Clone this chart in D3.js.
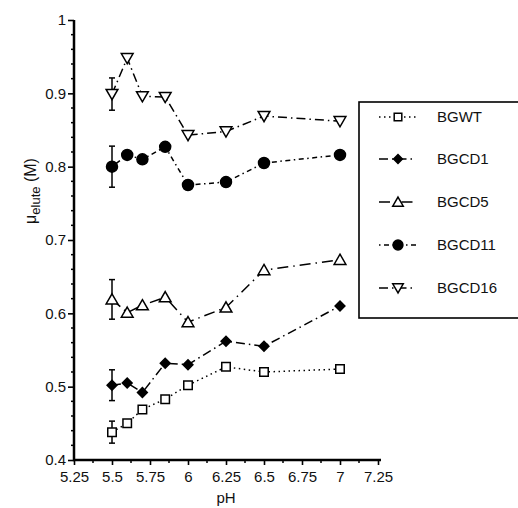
<!DOCTYPE html>
<html>
<head>
<meta charset="utf-8">
<script src="https://cdn.jsdelivr.net/npm/d3@7"></script>
<style>
  body { margin: 0; background: #fff; }
  text { font-family: "Liberation Sans", Arial, sans-serif; fill: #111; }
</style>
</head>
<body>
<svg id="chart" width="518" height="508"></svg>
<script>
// pH values, shared by every series
var phValues = [5.5, 5.6, 5.7, 5.85, 6.0, 6.25, 6.5, 7.0];

var bgwt   = [0.438, 0.450, 0.469, 0.483, 0.502, 0.527, 0.520, 0.524];
var bgcd1  = [0.502, 0.505, 0.492, 0.532, 0.530, 0.562, 0.555, 0.610];
var bgcd5  = [0.619, 0.601, 0.611, 0.622, 0.588, 0.608, 0.659, 0.673];
var bgcd11 = [0.800, 0.816, 0.810, 0.827, 0.775, 0.779, 0.805, 0.816];
var bgcd16 = [0.899, 0.948, 0.896, 0.895, 0.843, 0.848, 0.869, 0.862];

// error bars only on the first point (pH 5.5)
var errors = [0.015, 0.021, 0.027, 0.028, 0.022];

var seriesNames = ["BGWT", "BGCD1", "BGCD5", "BGCD11", "BGCD16"];
var xTicks = [5.25, 5.5, 5.75, 6, 6.25, 6.5, 6.75, 7, 7.25];
var yTicks = [0.4, 0.5, 0.6, 0.7, 0.8, 0.9, 1];

var svg = d3.select("#chart");

var x = d3.scaleLinear().domain([5.25, 7.25]).range([74, 378]);
var y = d3.scaleLinear().domain([0.4, 1]).range([460, 20]);

var seriesValues = [bgwt, bgcd1, bgcd5, bgcd11, bgcd16];
var styles = [
  {dash: "1.5,3.5", marker: "square", fill: "#fff"},
  {dash: "9,4,1.5,4", marker: "diamond", fill: "#000"},
  {dash: "11,5,1.5,5", marker: "triangleUp", fill: "#fff"},
  {dash: "1.5,3.5,5,3.5", marker: "circle", fill: "#000"},
  {dash: "9,4,1.5,4", marker: "triangleDown", fill: "#fff"}
];

var symbolTypes = {
  square: d3.symbolSquare,
  diamond: d3.symbolSquare,
  triangleUp: d3.symbolTriangle,
  circle: d3.symbolCircle,
  triangleDown: d3.symbolTriangle
};
var symbolSizes = {square: 72, diamond: 48, triangleUp: 60, circle: 95, triangleDown: 60};

function drawMarker(g, style, cx, cy, scale) {
  scale = scale || 1;
  var sym = d3.symbol().type(symbolTypes[style.marker]).size(symbolSizes[style.marker] * scale);
  var rot = style.marker == "triangleDown" ? 180 : (style.marker == "diamond" ? 45 : 0);
  var dy = style.marker == "triangleUp" ? 1.2 : (style.marker == "triangleDown" ? -1.2 : 0);
  g.append("path")
    .attr("d", sym())
    .attr("transform", "translate(" + cx + "," + (cy + dy) + ") rotate(" + rot + ")")
    .attr("fill", style.fill)
    .attr("stroke", "#000")
    .attr("stroke-width", 1.5);
}

// axis lines first, ticks and labels on top
svg.append("path").attr("d", "M74,20V460H381")
  .attr("fill", "none").attr("stroke", "#000").attr("stroke-width", 2.5);

var xAxis = d3.axisBottom(x).tickValues(xTicks).tickSize(5).tickFormat(d3.format("~g"));
var gx = svg.append("g").attr("transform", "translate(0,460)").call(xAxis);
var xMinor = d3.range(5.375, 7.25, 0.25);
gx.selectAll(".minor").data(xMinor).enter().append("line")
  .attr("x1", function(d){ return x(d); }).attr("x2", function(d){ return x(d); })
  .attr("y1", 0).attr("y2", 3).attr("stroke", "#000").attr("stroke-width", 1.5);

var yAxis = d3.axisLeft(y).tickValues(yTicks).tickSize(6).tickFormat(d3.format("~g"));
var gy = svg.append("g").attr("transform", "translate(74,0)").call(yAxis);
var yMinor = d3.range(0.42, 1, 0.02).filter(function(d){ return Math.abs(d*10 - Math.round(d*10)) > 0.01; });
gy.selectAll(".minor").data(yMinor).enter().append("line")
  .attr("x1", -3).attr("x2", 0)
  .attr("y1", function(d){ return y(d); }).attr("y2", function(d){ return y(d); })
  .attr("stroke", "#000").attr("stroke-width", 1.5);

[gx, gy].forEach(function(g) {
  g.select(".domain").remove();
  g.selectAll(".tick line").attr("stroke", "#000").attr("stroke-width", 1.6);
  g.selectAll("text").style("font-size", "15px").attr("fill", "#111");
});
gx.selectAll(".tick text").attr("y", 8).attr("dy", "0.95em");
gy.selectAll(".tick text").attr("x", -8);

// axis titles
svg.append("text").attr("x", 226).attr("y", 503).attr("text-anchor", "middle")
  .style("font-size", "15px").text("pH");
var yl = svg.append("text").attr("transform", "translate(36,191) rotate(-90)")
  .attr("text-anchor", "middle").style("font-size", "16px");
yl.append("tspan").text("μ");
yl.append("tspan").attr("dy", 4).style("font-size", "13px").text("elute");
yl.append("tspan").attr("dy", -4).text(" (M)");

// series
var line = d3.line()
  .x(function(d, i){ return x(phValues[i]); })
  .y(function(d){ return y(d); });

seriesValues.forEach(function(vals, s) {
  var st = styles[s];
  var g = svg.append("g");
  g.append("path").datum(vals).attr("d", line)
    .attr("fill", "none").attr("stroke", "#000")
    .attr("stroke-width", 1.5).attr("stroke-dasharray", st.dash);
  // error bar at the first point
  var ex = x(phValues[0]);
  var e = errors[s];
  g.append("line").attr("x1", ex).attr("x2", ex)
    .attr("y1", y(vals[0] - e)).attr("y2", y(vals[0] + e))
    .attr("stroke", "#000").attr("stroke-width", 1.5);
  [vals[0] - e, vals[0] + e].forEach(function(v) {
    g.append("line").attr("x1", ex - 3).attr("x2", ex + 3)
      .attr("y1", y(v)).attr("y2", y(v))
      .attr("stroke", "#000").attr("stroke-width", 1.5);
  });
  vals.forEach(function(v, i) {
    drawMarker(g, st, x(phValues[i]), y(v));
  });
});

// legend
var legend = svg.append("g");
legend.append("rect").attr("x", 359).attr("y", 102).attr("width", 160).attr("height", 216)
  .attr("fill", "#fff").attr("stroke", "#000").attr("stroke-width", 1.6);
var legendY = [117, 159, 202, 245, 288];
seriesNames.forEach(function(name, s) {
  var ly = legendY[s];
  legend.append("line").attr("x1", 379).attr("x2", 416).attr("y1", ly).attr("y2", ly)
    .attr("stroke", "#000").attr("stroke-width", 1.4).attr("stroke-dasharray", styles[s].dash);
  drawMarker(legend, styles[s], 398, ly, 0.8);
  legend.append("text").attr("x", 437).attr("y", ly + 5)
    .style("font-size", "15px").text(name);
});
</script>
</body>
</html>
